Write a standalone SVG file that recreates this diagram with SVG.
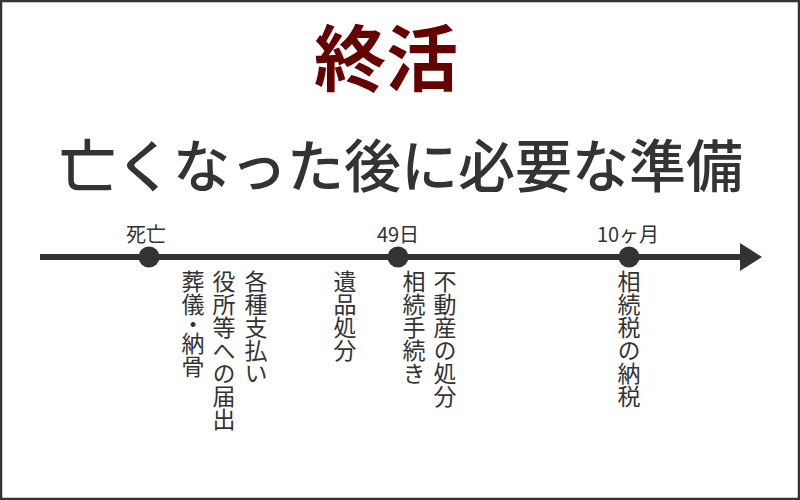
<svg xmlns="http://www.w3.org/2000/svg" width="800" height="500" viewBox="0 0 800 500">
  <style>
    .jp { font-family: "Noto Sans CJK JP", "Noto Sans", sans-serif; fill: #333333; }
    .title { font-size: 72px; font-weight: bold; fill: #650000; }
    .sub { font-size: 57px; font-weight: 500; }
    .lbl { font-size: 20px; }
    .vert { font-size: 23px; writing-mode: vertical-rl; }
    .dot { fill: #333333; }
  </style>
  <defs>
    <marker id="arrow" markerUnits="userSpaceOnUse" markerWidth="24" markerHeight="28" refX="0" refY="14" orient="auto">
      <path d="M0,0 L22,14 L0,28 Z" fill="#333333"/>
    </marker>
  </defs>
  <rect x="1" y="1" width="798" height="498" fill="#ffffff" stroke="#333333" stroke-width="2.5"/>

  <g id="title">
    <text class="jp title" x="386" y="85" text-anchor="middle">終活</text>
  </g>
  <g id="subtitle">
    <text class="jp sub" x="401" y="187" text-anchor="middle">亡くなった後に必要な準備</text>
  </g>

  <g id="connectors">
    <line x1="40" y1="257" x2="740" y2="257" stroke="#333333" stroke-width="6" marker-end="url(#arrow)"/>
  </g>

  <g id="node-death">
    <circle class="dot" cx="149" cy="257" r="10.5"/>
    <text class="jp lbl" x="146" y="242" text-anchor="middle">死亡</text>
    <text class="jp vert" x="256" y="270">各種支払い</text>
    <text class="jp vert" x="224" y="270">役所等への届出</text>
    <text class="jp vert" x="193" y="270">葬儀<tspan dy="-3">・</tspan><tspan dy="-4">納骨</tspan></text>
  </g>

  <g id="node-49days">
    <circle class="dot" cx="398" cy="257" r="10.5"/>
    <text class="jp lbl" x="398" y="242" text-anchor="middle">49日</text>
    <text class="jp vert" x="345" y="270">遺品処分</text>
    <text class="jp vert" x="445" y="270">不動産の処分</text>
    <text class="jp vert" x="414" y="270">相続手続き</text>
  </g>

  <g id="node-10months">
    <circle class="dot" cx="629" cy="257" r="10.5"/>
    <text class="jp lbl" x="628" y="242" text-anchor="middle">10ヶ月</text>
    <text class="jp vert" x="629" y="270">相続税の納税</text>
  </g>
</svg>
